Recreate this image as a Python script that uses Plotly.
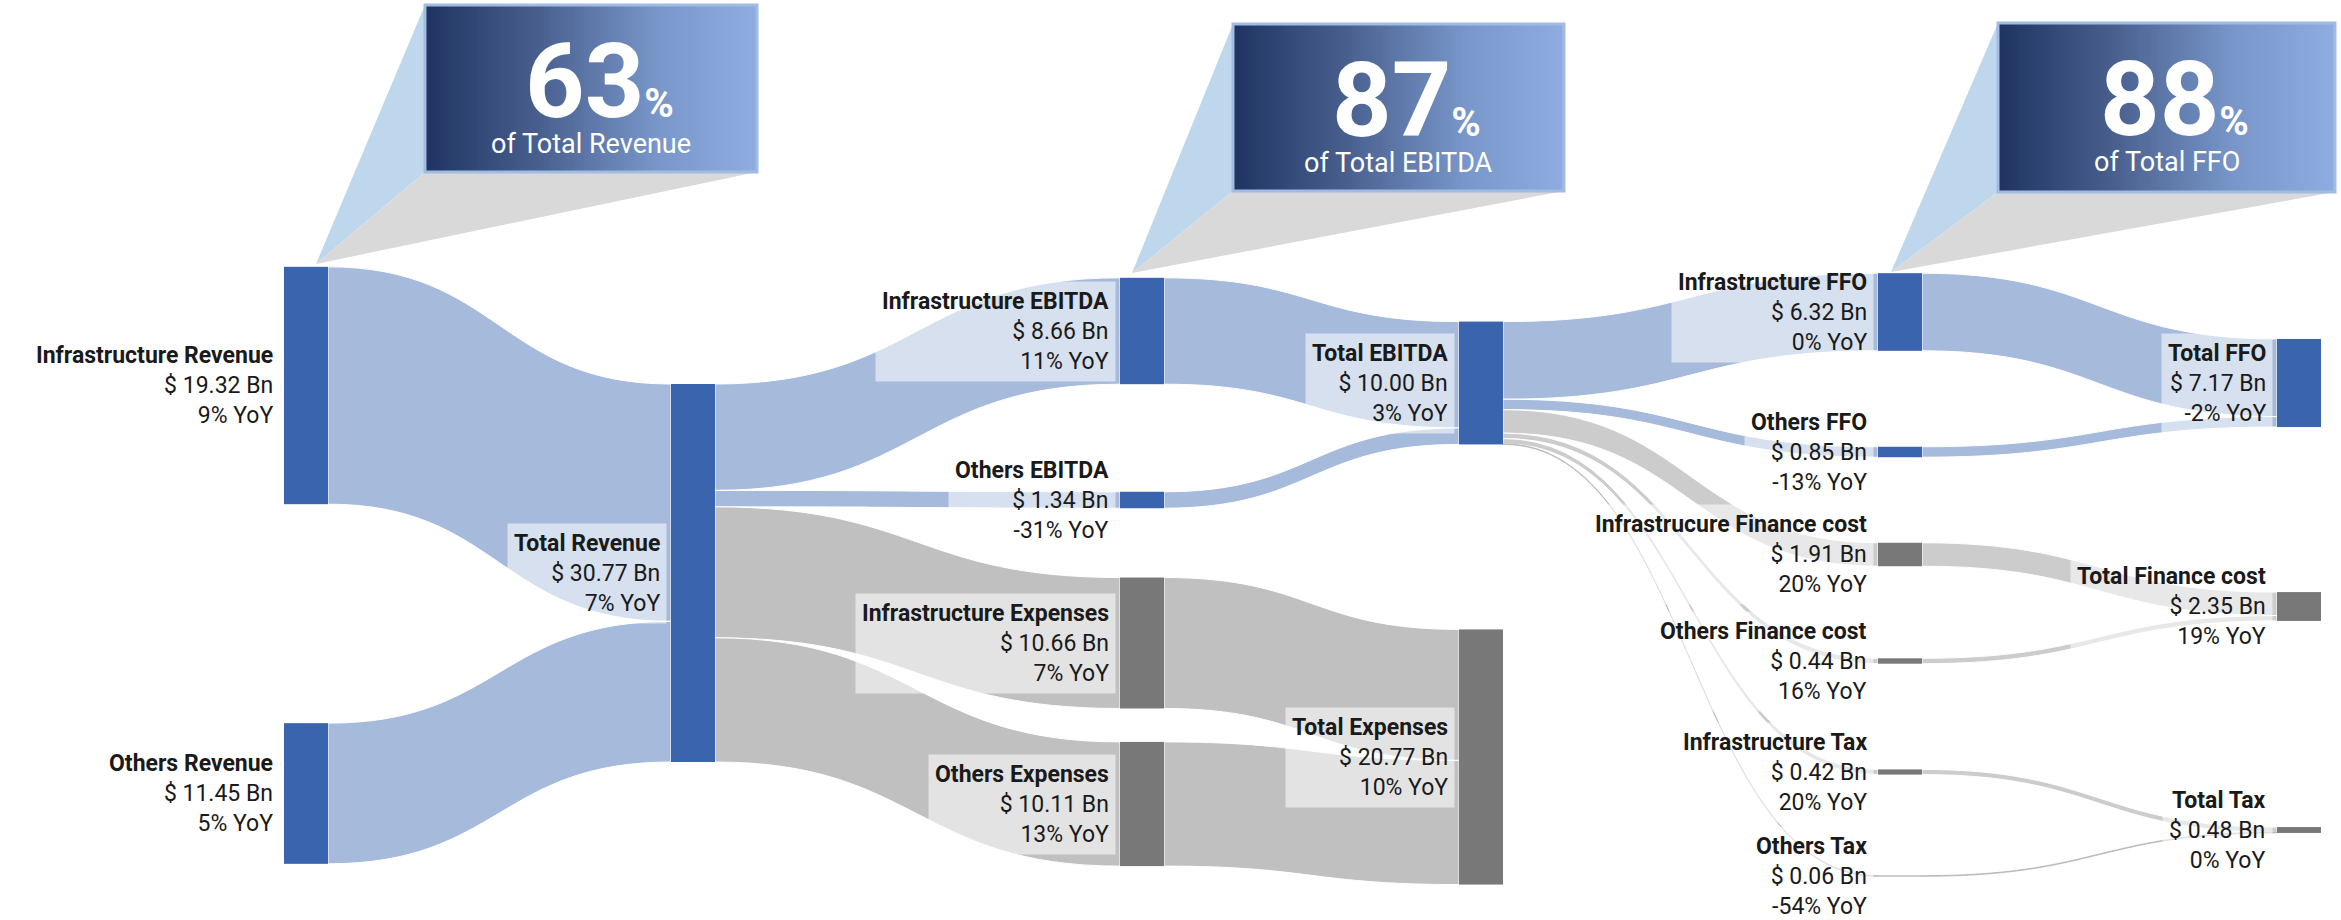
import numpy as np
import plotly.graph_objects as go

W, H = 2341, 920
FONT = 'Roboto, sans-serif'

# ---- data ----
node_names = ['Infrastructure Revenue', 'Others Revenue', 'Total Revenue',
              'Infrastructure EBITDA', 'Others EBITDA', 'Infrastructure Expenses', 'Others Expenses',
              'Total EBITDA', 'Total Expenses',
              'Infrastructure FFO', 'Others FFO', 'Infrastrucure Finance cost', 'Others Finance cost',
              'Infrastructure Tax', 'Others Tax',
              'Total FFO', 'Total Finance cost', 'Total Tax']
node_values = [19.32, 11.45, 30.77, 8.66, 1.34, 10.66, 10.11, 10.00, 20.77,
               6.32, 0.85, 1.91, 0.44, 0.42, 0.06, 7.17, 2.35, 0.48]
node_yoy = [9, 5, 7, 11, -31, 7, 13, 3, 10, 0, -13, 20, 16, 20, -54, -2, 19, 0]

link_source = [0, 1, 2, 2, 2, 2, 3, 4, 5, 6, 7, 7, 7, 7, 7, 7, 9, 10, 11, 12, 13, 14]
link_target = [2, 2, 3, 4, 5, 6, 7, 7, 8, 8, 9, 10, 11, 12, 13, 14, 15, 15, 16, 16, 17, 17]
link_value = [19.32, 11.45, 8.66, 1.34, 10.66, 10.11, 8.66, 1.34, 10.66, 10.11,
              6.32, 0.85, 1.91, 0.44, 0.42, 0.06, 6.32, 0.85, 1.91, 0.44, 0.42, 0.06]

callout_pct = [63, 87, 88]
callout_text = ['of Total Revenue', 'of Total EBITDA', 'of Total FFO']

# ---- layout / style ----
col_x = [306, 693, 1142, 1481, 1900, 2299]
node_col = [0, 0, 1, 2, 2, 2, 2, 3, 3, 4, 4, 4, 4, 4, 4, 5, 5, 5]
node_cy = [385.5, 793.5, 573, 331, 500, 643, 804, 383, 757,
           312, 452, 554.5, 661, 772, 876, 383, 606.5, 830]
blue_nodes = {0, 1, 2, 3, 4, 7, 9, 10, 15}
sk_top, sk_bot = 280, 880
thick = 44

BLUE = '#3a64ae'
GREY = '#787878'
node_colors = [BLUE if i in blue_nodes else GREY for i in range(len(node_names))]

link_colors = []
for s, t in zip(link_source, link_target):
    if s in blue_nodes and t in blue_nodes:
        link_colors.append('rgba(150,174,214,0.85)')
    elif s == 7 or s >= 11:
        link_colors.append('rgba(170,170,170,0.6)')
    else:
        link_colors.append('#c0c0c0')
link_lw = [1 if t in (5, 6) else 0 for t in link_target]

node_x = [col_x[c] / W for c in node_col]
node_y = [(cy - sk_top) / (sk_bot - sk_top) for cy in node_cy]

fig = go.Figure()

sankey = go.Sankey(
    arrangement='fixed',
    domain=dict(x=[0, 1], y=[1 - sk_bot / H, 1 - sk_top / H]),
    node=dict(
        label=[''] * len(node_names),
        customdata=node_names,
        hovertemplate='%{customdata}: %{value:.2f} Bn<extra></extra>',
        x=node_x,
        y=node_y,
        pad=74,
        thickness=thick,
        color=node_colors,
        line=dict(width=0),
    ),
    link=dict(
        source=link_source,
        target=link_target,
        value=link_value,
        color=link_colors,
        line=dict(color='white', width=link_lw),
    ),
)
fig.add_trace(sankey)

# node labels
for i, name in enumerate(node_names):
    cx = col_x[node_col[i]]
    fig.add_annotation(
        x=cx - thick / 2 - 4, y=node_cy[i], xref='x', yref='y',
        xanchor='right', yanchor='middle', align='right', showarrow=False,
        text=f'<b>{name}</b><br>$ {node_values[i]:.2f} Bn<br>{node_yoy[i]}% YoY',
        font=dict(family=FONT, size=23, color='#1a1a1a'),
        bgcolor='rgba(255,255,255,0.55)', borderpad=6,
    )

# callout boxes
boxes = [(425, 757, 5, 172, 316, 264),
         (1233, 1564, 24, 191, 1132, 273),
         (1998, 2335, 23, 192, 1891, 272)]
grad = [[0, '#1f3461'], [0.35, '#4a6190'], [0.7, '#7896c9'], [1, '#8eacdf']]
n_strip = 120
for k, (l, r, t, b, tx, ty) in enumerate(boxes):
    fig.add_shape(type='path', path=f'M {l},{t} L {tx},{ty} L {l},{b} Z',
                  xref='x', yref='y', fillcolor='#bfd7ec', line=dict(width=0), layer='below')
    fig.add_shape(type='path', path=f'M {l},{b} L {r},{b} L {tx},{ty} Z',
                  xref='x', yref='y', fillcolor='#d9d9d9', line=dict(width=0), layer='below')
    fig.add_trace(go.Heatmap(
        x=np.linspace(l, r, n_strip + 1), y=[t, b], z=[list(range(n_strip))],
        colorscale=grad, showscale=False, hoverinfo='skip',
    ))
    fig.add_shape(type='rect', x0=l, x1=r, y0=t, y1=b, xref='x', yref='y',
                  line=dict(color='#a2bbe3', width=3))
    cx = (l + r) / 2
    fig.add_annotation(
        x=cx + 8, y=t + 76, xref='x', yref='y', showarrow=False,
        xanchor='center', yanchor='middle',
        text=f"<b>{callout_pct[k]}</b><span style='font-size:40px'><b>%</b></span>",
        font=dict(family=FONT, size=104, color='white'),
    )
    fig.add_annotation(
        x=cx, y=t + 139, xref='x', yref='y', showarrow=False,
        xanchor='center', yanchor='middle', text=callout_text[k],
        font=dict(family=FONT, size=27, color='white'),
    )

fig.update_xaxes(range=[0, W], visible=False, fixedrange=True)
fig.update_yaxes(range=[H, 0], visible=False, fixedrange=True)
fig.update_layout(
    width=W, height=H,
    margin=dict(l=0, r=0, t=0, b=0),
    paper_bgcolor='white', plot_bgcolor='rgba(0,0,0,0)',
    showlegend=False,
    font=dict(family=FONT),
)

fig.write_html('out.html', config={'displayModeBar': False},
               post_script="document.body.style.margin='0';")
